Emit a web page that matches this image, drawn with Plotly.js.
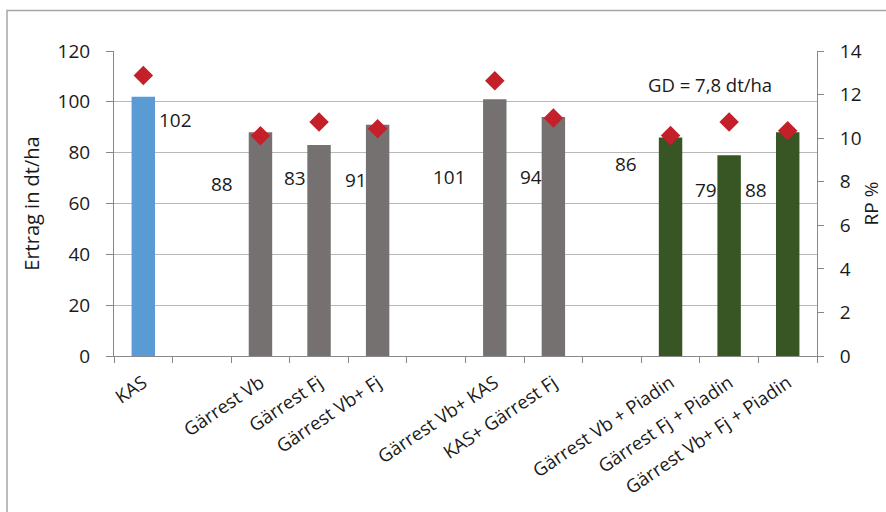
<!DOCTYPE html>
<html>
<head>
<meta charset="utf-8">
<script src="https://cdn.plot.ly/plotly-3.0.1.min.js"></script>
<style>html,body{margin:0;padding:0;background:#fff;}#chart{width:886px;height:512px;}</style>
</head>
<body>
<div id="chart"></div>
<script>
// Categories (gaps are blank slots)
const categories = ["KAS", " ", "Gärrest Vb", "Gärrest Fj", "Gärrest Vb+ Fj", "  ",
  "Gärrest Vb+ KAS", "KAS+ Gärrest Fj", "   ",
  "Gärrest Vb + Piadin", "Gärrest Fj + Piadin", "Gärrest Vb+ Fj + Piadin"];
// Ertrag in dt/ha
const ertrag = [102, null, 88, 83, 91, null, 101, 94, null, 86, 79, 88];
// RP %
const rp = [12.87, null, 10.11, 10.74, 10.43, null, 12.64, 10.92, null, 10.12, 10.74, 10.34];
// bar colour group
const groupColor = ["#5B9BD5", null, "#767171", "#767171", "#767171", null,
  "#767171", "#767171", null, "#375623", "#375623", "#375623"];
// data label placement (as in the original, labels moved by hand)
const labelY = [93, null, 67.5, 69.9, 69.1, null, 70.3, 70.3, null, 75.4, 65.5, 65.5];
const labelDx = [32, 0, -38, -24, -22, 0, -45, -22, 0, -45, -23, -32];

const font = "Open Sans, Liberation Sans, sans-serif";

const bars = {
  type: "bar", x: categories, y: ertrag,
  marker: {color: groupColor}, width: 0.4,
  hoverinfo: "x+y", showlegend: false
};
const diamonds = {
  type: "scatter", mode: "markers", x: categories, y: rp, yaxis: "y2",
  marker: {symbol: "diamond", size: 15, color: "#C3202A"},
  showlegend: false
};

const annotations = [];
categories.forEach((c, i) => {
  if (ertrag[i] === null) return;
  annotations.push({
    x: c, y: labelY[i], xref: "x", yref: "y", text: String(ertrag[i]),
    showarrow: false, xshift: labelDx[i], xanchor: "center", yanchor: "middle",
    font: {family: font, size: 19, color: "#1a1a1a"}
  });
});
annotations.push({
  x: 0.848, y: 0.889, xref: "paper", yref: "paper", text: "GD = 7,8 dt/ha",
  xanchor: "center", yanchor: "middle",
  showarrow: false, font: {family: font, size: 18.5, color: "#1a1a1a"}
});

const layout = {
  width: 886, height: 512,
  margin: {l: 114, r: 69, t: 51, b: 156},
  paper_bgcolor: "#fff", plot_bgcolor: "#fff",
  font: {family: font, color: "#1a1a1a"},
  bargap: 0.6,
  xaxis: {
    type: "category", range: [-0.5, 11.5], tickson: "boundaries", ticks: "outside", ticklen: 6,
    tickcolor: "#888", showline: true, linecolor: "#888", linewidth: 1,
    tickangle: -34, tickfont: {family: font, size: 18.5, color: "#1a1a1a"},
    ticklabelstandoff: 8,
    showgrid: false, zeroline: false
  },
  yaxis: {
    range: [0, 120], dtick: 20, ticks: "outside", ticklen: 7, tickcolor: "#888",
    showline: true, linecolor: "#888", gridcolor: "#b8b8b8", gridwidth: 1,
    zeroline: false, ticklabelstandoff: 12,
    tickfont: {family: font, size: 19, color: "#1a1a1a"},
    title: {text: "Ertrag in dt/ha", font: {family: font, size: 20, color: "#1a1a1a"}, standoff: 12}
  },
  yaxis2: {
    overlaying: "y", side: "right", range: [0, 14], dtick: 2,
    ticks: "outside", ticklen: 6, tickcolor: "#888",
    showline: true, linecolor: "#888", showgrid: false, zeroline: false,
    ticklabelstandoff: 12,
    tickfont: {family: font, size: 19, color: "#1a1a1a"},
    title: {text: "RP %", font: {family: font, size: 19, color: "#1a1a1a"}, standoff: 4}
  },
  annotations: annotations,
  shapes: [{
    type: "rect", xref: "paper", yref: "paper",
    x0: -0.1522, x1: 1.3, y0: -0.6, y1: 1.1328,
    line: {color: "#a6a6a6", width: 1.5}, fillcolor: "rgba(0,0,0,0)", layer: "below"
  }]
};

Plotly.newPlot("chart", [bars, diamonds], layout, {displayModeBar: false, staticPlot: true});
</script>
</body>
</html>
